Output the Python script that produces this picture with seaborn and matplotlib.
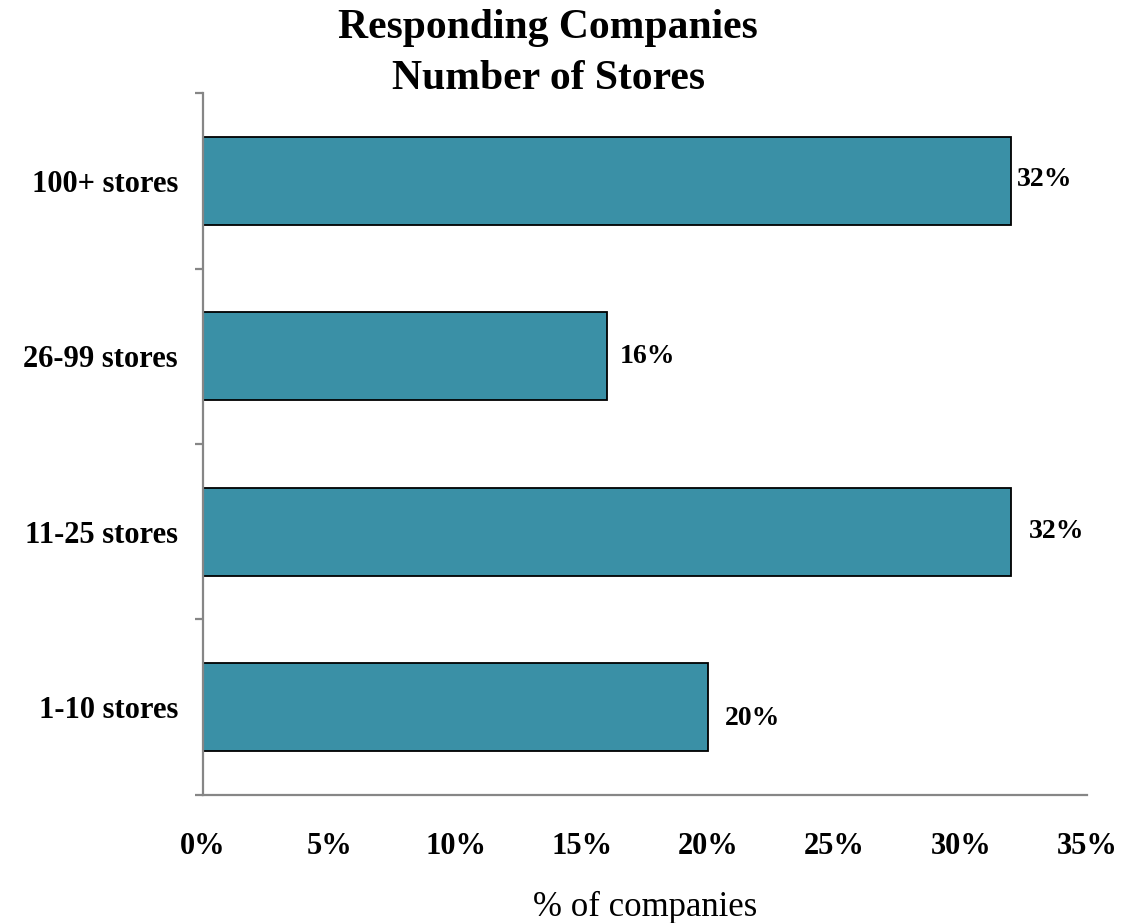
import matplotlib
matplotlib.use("Agg")
import matplotlib.pyplot as plt
from matplotlib.ticker import FixedLocator, MultipleLocator, FuncFormatter
import seaborn as sns
import pandas as pd

# Survey data: share of responding companies by store count
categories = ["100+ stores", "26-99 stores", "11-25 stores", "1-10 stores"]
shares = [32, 16, 32, 20]
value_labels = ["32%", "16%", "32%", "20%"]

# Per-label nudges (points) for the value annotations
label_dx = [4, 9, 13, 12]
label_dy = [1, 0, 0, -8]

df = pd.DataFrame({"group": categories, "share": shares})

sns.set_theme(style="white")
plt.rcParams["font.family"] = ["Liberation Serif", "DejaVu Serif"]
plt.rcParams["text.color"] = "black"
plt.rcParams["axes.labelcolor"] = "black"
plt.rcParams["xtick.labelcolor"] = "black"
plt.rcParams["ytick.labelcolor"] = "black"

fig = plt.figure(figsize=(11.21, 9.23), dpi=100)
ax = fig.add_axes([0.1811, 0.1387, 0.7886, 0.7605])

bar_color = "#3A90A6"
sns.barplot(data=df, x="share", y="group", order=categories, orient="h",
            color=bar_color, width=0.5, edgecolor="black", linewidth=1.3,
            saturation=1, ax=ax)

ax.set_xlim(0, 35)
ax.set_ylim(3.5, -0.5)

# Spines and ticks
for side in ["top", "right"]:
    ax.spines[side].set_visible(False)
for side in ["left", "bottom"]:
    ax.spines[side].set_color("#868686")
    ax.spines[side].set_linewidth(1.6)

ax.xaxis.set_major_locator(MultipleLocator(5))
ax.xaxis.set_major_formatter(FuncFormatter(lambda v, p: f"{v:.0f}%"))
ax.tick_params(axis="x", which="major", direction="out", length=5,
               width=1.6, color="#868686", pad=22, labelsize=22,
               labelcolor="black")
for t in ax.get_xticklabels():
    t.set_fontweight("bold")

ax.yaxis.set_minor_locator(FixedLocator([-0.5, 0.5, 1.5, 2.5, 3.5]))
ax.tick_params(axis="y", which="major", length=0, pad=18, labelsize=22,
               labelcolor="black")
ax.tick_params(axis="y", which="minor", direction="out", length=6,
               width=1.6, color="#868686", left=True)
for t in ax.get_yticklabels():
    t.set_fontweight("bold")

ax.set_ylabel("")
ax.set_xlabel("% of companies", fontsize=25, labelpad=21, color="black")

# Value annotations at the end of each bar
for i, (v, lab) in enumerate(zip(shares, value_labels)):
    ax.annotate(lab, xy=(v, i), xytext=(label_dx[i], label_dy[i]),
                textcoords="offset points", ha="left", va="center",
                fontsize=20, fontweight="bold", color="black")

fig.text(0.489, 0.942, "Responding Companies\nNumber of Stores",
         ha="center", va="center", fontsize=30, fontweight="bold",
         linespacing=1.42, color="black")

fig.savefig("out.png", dpi=100, facecolor="white")
